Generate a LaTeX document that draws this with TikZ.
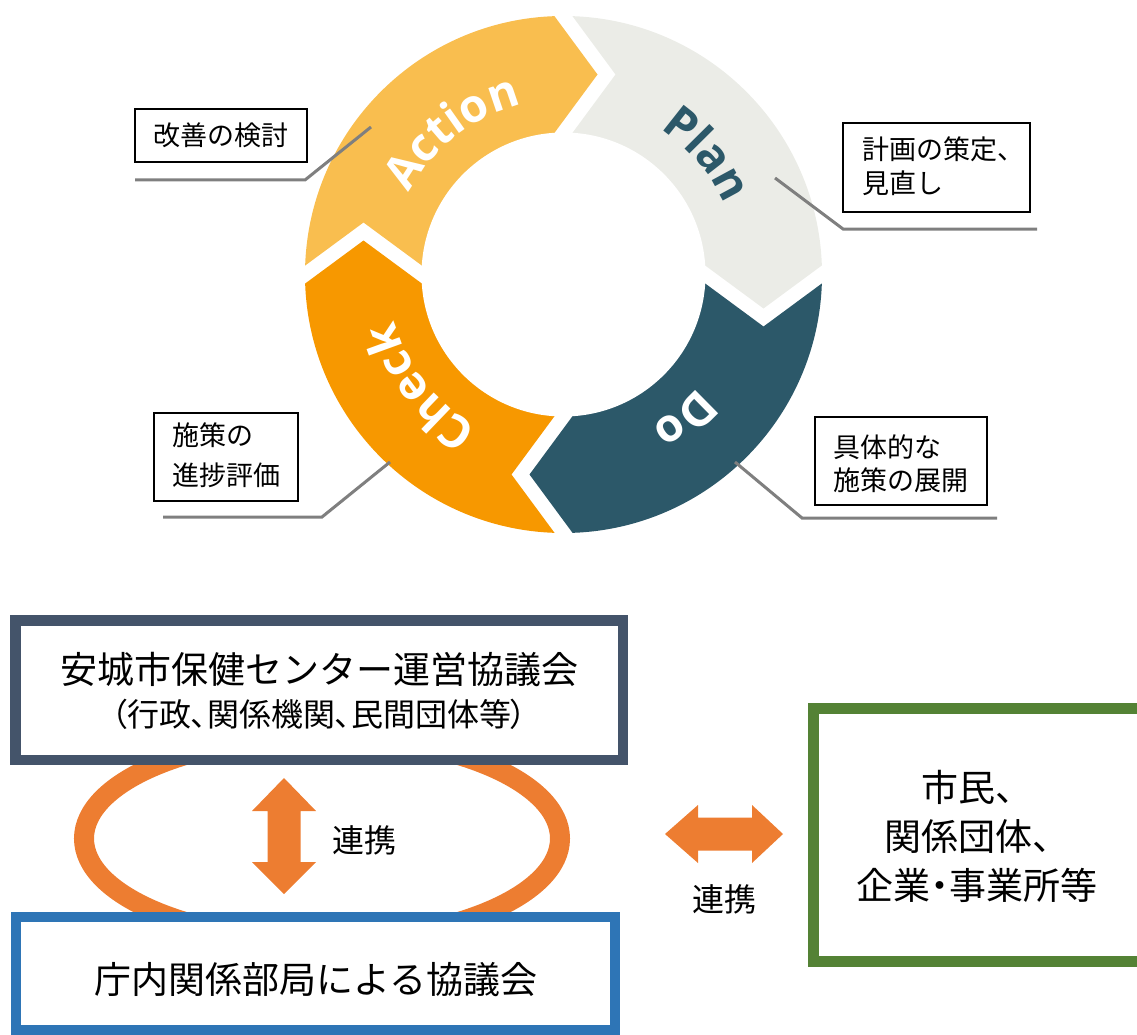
\documentclass[tikz,border=0pt]{standalone}
\usepackage{fontspec}
\newfontfamily\jp{Noto Sans CJK JP}
\newfontfamily\jpp[RawFeature=+palt]{Noto Sans CJK JP}
\newfontfamily\cyc{Open Sans}
\usetikzlibrary{decorations.text}
\definecolor{cAct}{HTML}{F9BE4F}
\definecolor{cPlan}{HTML}{EBECE7}
\definecolor{cDo}{HTML}{2C5869}
\definecolor{cChk}{HTML}{F79800}
\definecolor{leadc}{HTML}{7F7F7F}
\definecolor{slate}{HTML}{44546A}
\definecolor{blueb}{HTML}{2E75B6}
\definecolor{greenb}{HTML}{548235}
\definecolor{orng}{HTML}{ED7D31}
\tikzset{
  callout/.style={draw=black, line width=1.1pt, fill=white, inner sep=0pt},
  txt/.style={inner sep=0pt},
  cj/.style={font=\jp\fontsize{27}{27}\selectfont},
  big/.style={font=\jp\fontsize{37}{37}\selectfont},
  mid/.style={font=\jp\fontsize{32}{32}\selectfont},
  leader/.style={draw=leadc, line width=3pt},
  bigbox/.style={fill=white, inner sep=0pt},
  seglabel/.style={decorate, decoration={text along path, text align=center, text color=#1}},
}
\begin{document}
\begin{tikzpicture}[x=1pt,y=1pt]
\useasboundingbox (0,0) rectangle (1137,-1035);

% ---- PDCA ring ----
\begin{scope}[shift={(563.5,-274.5)}]
  \begin{scope}
    \clip (0,0) circle (258.5);
    \foreach \ang/\col in {0/cAct,-90/cPlan,-180/cDo,-270/cChk} {
      \fill[\col, rotate=\ang] (-330,9) -- (-258.3,9) -- (-200,52) -- (-141.7,9) -- (0,9)
        -- (-9,0) -- (-9,141.7) -- (34,200) -- (-9,258.3) -- (-9,330) -- (-330,330) -- cycle;
    }
  \end{scope}
  \fill[white] (0,0) circle (142);
  \path[seglabel=white, decoration={text={|\cyc\bfseries\fontsize{46}{46}\selectfont|Action}}]
    (168:175) arc[start angle=168, end angle=88, radius=175];
  \path[seglabel=cDo, decoration={text={|\cyc\bfseries\fontsize{46}{46}\selectfont|Plan}}]
    (80:175) arc[start angle=80, end angle=0, radius=175];
  \path[seglabel=white, decoration={text={|\cyc\bfseries\fontsize{46}{46}\selectfont|Do}}]
    (-10:175) arc[start angle=-10, end angle=-90, radius=175];
  \path[seglabel=white, decoration={text={|\cyc\bfseries\fontsize{46}{46}\selectfont|Check}}]
    (258:175) arc[start angle=258, end angle=178, radius=175];
\end{scope}

% ---- callouts ----
\node[callout, cj, minimum width=172, minimum height=53] (ca) at (221,-135.5) {改善の検討};
\node[callout, minimum width=187, minimum height=89] (cp) at (936.5,-167.5) {};
\node[txt, cj, anchor=west] (cp1) at (862,-149) {計画の策定、};
\node[txt, cj, anchor=west] (cp2) at (862,-183.5) {見直し};
\node[callout, minimum width=144, minimum height=88] (cc) at (226,-457) {};
\node[txt, cj, anchor=west] (cc1) at (172,-435) {施策の};
\node[txt, cj, anchor=west] (cc2) at (172,-475) {進捗評価};
\node[callout, minimum width=172, minimum height=88] (cd) at (901,-461) {};
\node[txt, cj, anchor=west] (cd1) at (833,-447) {具体的な};
\node[txt, cj, anchor=west] (cd2) at (833,-480) {施策の展開};

\coordinate (a1) at (135,-180); \coordinate (a2) at (305,-180); \coordinate (a3) at (371,-127);
\coordinate (p1) at (1037,-229); \coordinate (p2) at (843,-229); \coordinate (p3) at (775,-178);
\coordinate (c1) at (163,-517); \coordinate (c2) at (322,-517); \coordinate (c3) at (390,-462);
\coordinate (d1) at (997,-518); \coordinate (d2) at (802,-518); \coordinate (d3) at (735,-462);
\draw[leader] (a1) -- (a2) -- (a3);
\draw[leader] (p1) -- (p2) -- (p3);
\draw[leader] (c1) -- (c2) -- (c3);
\draw[leader] (d1) -- (d2) -- (d3);

% ---- lower part ----
\draw[orng, line width=20pt] (322,-838.5) ellipse [x radius=238, y radius=102];

\node[bigbox, draw=slate, line width=10.5pt, minimum width=607.5, minimum height=139.5] (topbox) at (319,-690) {};
\node[txt, big] (t1) at (319,-669) {安城市保健センター運営協議会};
\node[txt, font=\jpp\fontsize{32}{32}\selectfont] (t2) at (319,-714) {（行政、関係機関、民間団体等）};

\node[bigbox, draw=blueb, line width=10pt, minimum width=599, minimum height=113] (lowbox) at (315.5,-973.5) {};
\node[txt, big] (l1) at (316,-980) {庁内関係部局による協議会};

\node[bigbox, draw=greenb, line width=11pt, minimum width=331, minimum height=253] (greenbox) at (979,-835) {};
\node[txt, font=\jp\fontsize{37}{49}\selectfont, align=center] (g1) at (977,-836) {市民、\\関係団体、\\企業{\jpp ・}事業所等};

% vertical double arrow
\fill[orng] (284,-778) -- (316,-811) -- (300.5,-811) -- (300.5,-862) -- (316,-862) -- (284,-894)
  -- (252,-862) -- (267.5,-862) -- (267.5,-811) -- (252,-811) -- cycle;
\node[txt, mid] (r1) at (364,-840) {連携};

% horizontal double arrow
\fill[orng] (665,-834) -- (698,-805) -- (698,-817.5) -- (752,-817.5) -- (752,-805) -- (783,-834)
  -- (752,-863) -- (752,-850.5) -- (698,-850.5) -- (698,-863) -- cycle;
\node[txt, mid] (r2) at (724,-899) {連携};
\end{tikzpicture}
\end{document}
